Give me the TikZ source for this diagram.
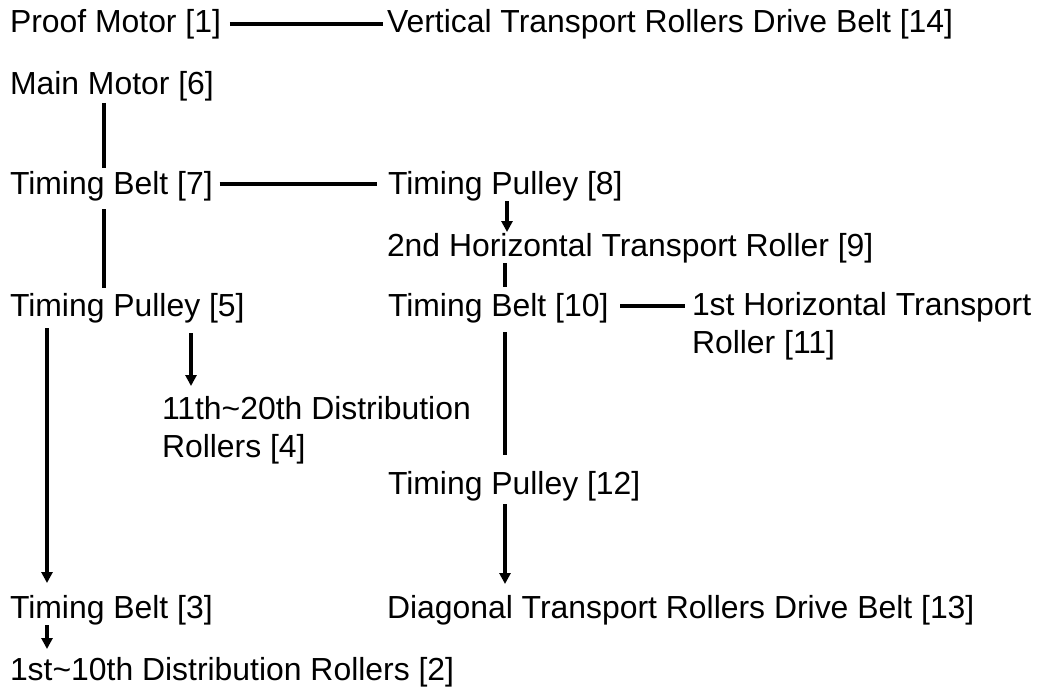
\documentclass[tikz,border=0pt]{standalone}
\usepackage{fontspec}
\setmainfont{Liberation Sans}
\usetikzlibrary{arrows.meta}
\begin{document}
\begin{tikzpicture}[x=1pt,y=-1pt,
  txt/.style={anchor=base west,inner sep=0pt,outer sep=0pt,font=\fontsize{31.9}{37.5}\selectfont},
  ln/.style={line width=3.4pt,black},
  arr/.style={ln,-{Triangle[length=11pt,width=11pt]}}]
\useasboundingbox (0,0) rectangle (1038,690);
\node[txt] (pm) at (10,33) {Proof Motor [1]};
\node[txt] (vt) at (387,33) {Vertical Transport Rollers Drive Belt [14]};
\node[txt] (mm) at (10,95) {Main Motor [6]};
\node[txt] (tb7) at (10,194) {Timing Belt [7]};
\node[txt] (tp8) at (388,194) {Timing Pulley [8]};
\node[txt] (h9) at (387,256) {2nd Horizontal Transport Roller [9]};
\node[txt] (tp5) at (10,316) {Timing Pulley [5]};
\node[txt] (tb10) at (388,316) {Timing Belt [10]};
\node[txt,align=left] (h11) at (692,353) {1st Horizontal Transport\\Roller [11]};
\node[txt,align=left] (dr4) at (162,457) {11th\textasciitilde20th Distribution\\Rollers [4]};
\node[txt] (tp12) at (388,494) {Timing Pulley [12]};
\node[txt] (tb3) at (10,618) {Timing Belt [3]};
\node[txt] (dg13) at (387,618) {Diagonal Transport Rollers Drive Belt [13]};
\node[txt] (dr2) at (10,680) {1st\textasciitilde10th Distribution Rollers [2]};

\draw[ln] ([shift={(9,-9)}]pm.base east) -- ([shift={(-4,-9)}]vt.base west);
\draw[ln] ([shift={(94,8)}]mm.base west) -- ([shift={(94,-26)}]tb7.base west);
\draw[ln] ([shift={(7,-10)}]tb7.base east) -- ([shift={(-11,-10)}]tp8.base west);
\draw[ln] ([shift={(94,15)}]tb7.base west) -- ([shift={(94,-28)}]tp5.base west);
\draw[arr] ([shift={(119,7)}]tp8.base west) -- ([shift={(120,-24)}]h9.base west);
\draw[ln] ([shift={(118,7)}]h9.base west) -- ([shift={(117,-29)}]tb10.base west);
\draw[ln] ([shift={(12,-10)}]tb10.base east) -- ([shift={(-7,-47)}]h11.base west);
\draw[arr] ([shift={(37,12)}]tp5.base west) -- ([shift={(37,-35)}]tb3.base west);
\draw[arr] ([shift={(181,17)}]tp5.base west) -- ([shift={(29,-71)}]dr4.base west);
\draw[ln] ([shift={(117,16)}]tb10.base west) -- ([shift={(117,-39)}]tp12.base west);
\draw[arr] ([shift={(117,10)}]tp12.base west) -- ([shift={(118,-34)}]dg13.base west);
\draw[arr] ([shift={(37,7)}]tb3.base west) -- ([shift={(37,-31)}]dr2.base west);
\end{tikzpicture}
\end{document}
